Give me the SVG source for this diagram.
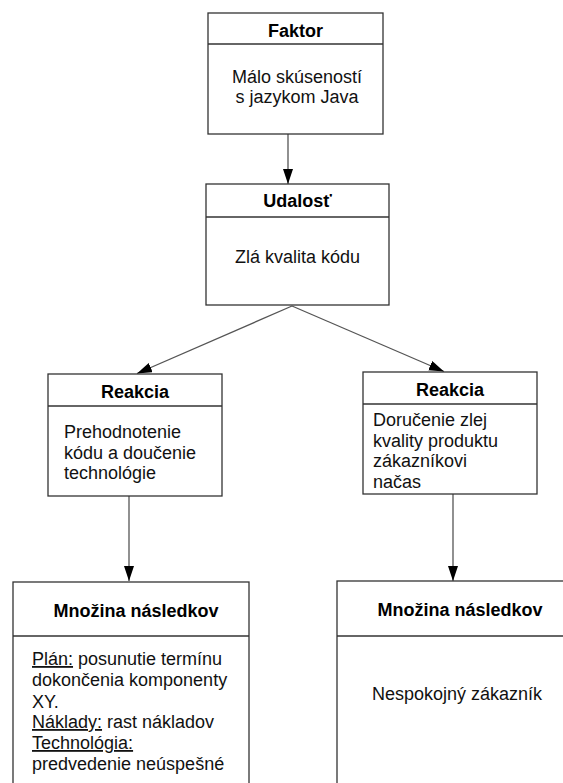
<svg xmlns="http://www.w3.org/2000/svg" width="563" height="783" viewBox="0 0 563 783">
<style>
.box{fill:#fff;stroke:#333;stroke-width:1.3}
.sep{stroke:#333;stroke-width:1.3}
.t{font-family:"Liberation Sans",Arial,sans-serif;font-size:18px;font-weight:bold;fill:#000;text-anchor:middle}
.b{font-family:"Liberation Sans",Arial,sans-serif;font-size:18px;fill:#111}
.c{text-anchor:middle}
.u{text-decoration:underline}
.conn{stroke:#555;stroke-width:1.3;fill:none;marker-end:url(#ah)}
</style>
<defs>
<marker id="ah" markerUnits="userSpaceOnUse" markerWidth="16" markerHeight="12" refX="15" refY="5" orient="auto">
<path d="M0,0 L15,5 L0,10 Z" fill="#000"/>
</marker>
</defs>
<rect width="563" height="783" fill="#fff"/>
<g id="connectors">
<line class="conn" x1="288" y1="134" x2="288" y2="184"/>
<line class="conn" x1="292" y1="306" x2="137" y2="373.5"/>
<line class="conn" x1="292" y1="306" x2="444" y2="371.5"/>
<line class="conn" x1="129" y1="496" x2="129" y2="581"/>
<line class="conn" x1="453" y1="494" x2="453" y2="581"/>
</g>
<g id="faktor">
<rect class="box" x="208" y="13" width="175" height="121"/>
<line class="sep" x1="208" y1="44" x2="383" y2="44"/>
<text class="t" x="295.5" y="37">Faktor</text>
<text class="b c" x="297" y="83">Málo skúseností</text>
<text class="b c" x="297" y="103">s jazykom Java</text>
</g>
<g id="udalost">
<rect class="box" x="206" y="184" width="183" height="121"/>
<line class="sep" x1="206" y1="217" x2="389" y2="217"/>
<text class="t" x="297.5" y="207">Udalosť</text>
<text class="b" x="235" y="263">Zlá kvalita kódu</text>
</g>
<g id="reakcia-left">
<rect class="box" x="48" y="374" width="174" height="122"/>
<line class="sep" x1="48" y1="406" x2="222" y2="406"/>
<text class="t" x="135" y="398">Reakcia</text>
<text class="b" x="64" y="438">Prehodnotenie</text>
<text class="b" x="64" y="459">kódu a doučenie</text>
<text class="b" x="64" y="479">technológie</text>
</g>
<g id="reakcia-right">
<rect class="box" x="363" y="372" width="174" height="122"/>
<line class="sep" x1="363" y1="404" x2="537" y2="404"/>
<text class="t" x="450" y="396">Reakcia</text>
<text class="b" x="373" y="426">Doručenie zlej</text>
<text class="b" x="373" y="447">kvality produktu</text>
<text class="b" x="373" y="467">zákazníkovi</text>
<text class="b" x="373" y="488">načas</text>
</g>
<g id="nasledky-left">
<rect class="box" x="13" y="582" width="236" height="220"/>
<line class="sep" x1="13" y1="636" x2="249" y2="636"/>
<text class="t" x="136" y="617">Množina následkov</text>
<text class="b" x="32" y="665"><tspan class="u">Plán:</tspan> posunutie termínu</text>
<text class="b" x="32" y="686">dokončenia komponenty</text>
<text class="b" x="32" y="708">XY.</text>
<text class="b" x="32" y="728"><tspan class="u">Náklady:</tspan> rast nákladov</text>
<text class="b" x="32" y="749"><tspan class="u">Technológia:</tspan></text>
<text class="b" x="32" y="770">predvedenie neúspešné</text>
</g>
<g id="nasledky-right">
<rect class="box" x="337" y="581" width="240" height="220"/>
<line class="sep" x1="337" y1="636" x2="577" y2="636"/>
<text class="t" x="460" y="616">Množina následkov</text>
<text class="b c" x="457" y="700">Nespokojný zákazník</text>
</g>
</svg>
